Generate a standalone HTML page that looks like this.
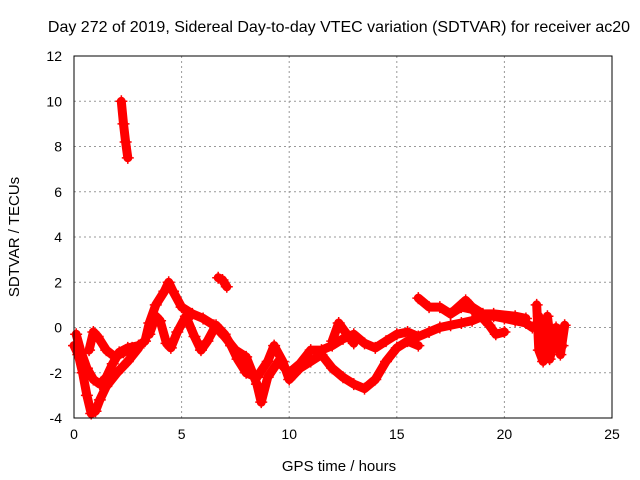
<!DOCTYPE html>
<html><head><meta charset="utf-8"><style>
body{margin:0;background:#fff}
svg{display:block;font-family:"Liberation Sans",sans-serif}
</style></head><body>
<svg id="c" width="640" height="480">
<text x="339" y="32" font-size="16" text-anchor="middle">Day 272 of 2019, Sidereal Day-to-day VTEC variation (SDTVAR) for receiver ac20</text>
<text x="339" y="471" font-size="15" text-anchor="middle">GPS time / hours</text>
<text transform="translate(19,237) rotate(-90)" font-size="15" text-anchor="middle">SDTVAR / TECUs</text>
<g id="grid"></g><g id="ticks"></g><g id="marks"></g>
<rect x="74" y="56" width="538" height="362" fill="none" stroke="#000" stroke-width="1"/>
</svg>
<script>
const xTicks=[0,5,10,15,20,25];
const yTicks=[-4,-2,0,2,4,6,8,10,12];
const trackA=[[0,-0.8],[0.2,-1.2],[0.4,-2],[0.6,-3],[0.8,-3.8],[1.0,-3.7],[1.2,-3.2],[1.5,-2.6],[2,-2],[2.5,-1.5],[3,-0.9]];
const trackB=[[0.1,-0.3],[0.3,-1],[0.6,-1.8],[0.9,-2.3],[1.2,-2.5],[1.5,-2.2],[1.8,-1.6],[2.1,-1.1],[2.5,-0.9],[3,-0.8],[3.3,-0.6],[3.5,0.2],[3.8,1],[4.2,1.6],[4.4,2],[4.6,1.6],[5,0.9],[5.5,0.6],[6,0.4],[6.5,0.1],[7,-0.4],[7.5,-1],[8,-1.3],[8.5,-2.5],[8.7,-3.3],[9,-2.2],[9.5,-1.5],[10,-2],[10.5,-1.6],[11,-1],[11.5,-1],[12,-0.8],[12.5,-0.5],[13,-0.3],[13.5,-0.7],[14,-0.9],[14.5,-0.6],[15,-0.3],[15.5,-0.2],[16,-0.4],[16.5,-0.2],[17,0],[17.5,0.1],[18,0.2],[18.5,0.3],[19,0.5],[19.5,0.5],[20,0.4],[20.5,0.3],[21,0.2],[21.3,0]];
const trackC=[[0.7,-1],[0.9,-0.2],[1.1,-0.4],[1.5,-1],[1.9,-1.3],[2.3,-1.1],[2.7,-0.9]];
const trackD=[[3.5,-0.3],[3.8,0.5],[4.0,0.3],[4.3,-0.7],[4.5,-0.9],[4.8,-0.2],[5.2,0.5],[5.6,-0.4],[5.9,-1],[6.2,-0.6],[6.6,0.1],[7,-0.3],[7.3,-0.8],[7.6,-1.4],[8,-2],[8.5,-2.2],[9,-1.5],[9.3,-0.8],[9.7,-1.5],[10,-2.3],[10.5,-1.8],[11,-1.5],[11.5,-1.2],[12,-1.8],[12.5,-2.2],[13,-2.5],[13.5,-2.7],[14,-2.3],[14.5,-1.5],[15,-0.9],[15.5,-0.6],[16,-0.8]];
const trackE=[[12,-0.6],[12.3,0.2],[12.6,-0.2],[13,-0.7]];
const trackF=[[16,1.3],[16.5,0.9],[17,0.9],[17.5,0.6],[18,0.9],[18.5,0.8],[19,0.4],[19.3,0.1],[19.6,-0.3],[20,-0.2]];
const trackG=[[17.5,0.6],[18.2,1.2],[18.5,0.9],[19,0.6],[19.5,0.6],[20.5,0.5],[21,0.4]];
const trackH=[[21.5,1],[21.6,-1],[21.8,-1.5],[22,0.5],[22.2,-1],[22.4,0],[22.6,-1.2],[22.8,0.1]];
const trackH2=[[21.6,0.5],[21.7,-0.5],[21.9,-0.2],[22.1,-1.4],[22.3,-0.6],[22.5,-0.3],[22.7,-0.8]];
const trackI=[[2.2,10],[2.3,9],[2.4,8.2],[2.5,7.5]];
const trackJ=[[6.7,2.2],[6.9,2.1],[7.1,1.8]];
const tracks=[trackA,trackB,trackC,trackD,trackE,trackF,trackG,trackH,trackH2,trackI,trackJ];
const X0=74,X1=612,Y0=418,Y1=56;
const sx=h=>X0+(h-0)/(25-0)*(X1-X0);
const sy=v=>Y0-(v+4)/(12+4)*(Y0-Y1);
const NS="http://www.w3.org/2000/svg";
const grid=document.getElementById('grid'),ticks=document.getElementById('ticks'),marks=document.getElementById('marks');
function mk(t,a,p){const e=document.createElementNS(NS,t);for(const k in a)e.setAttribute(k,a[k]);p.appendChild(e);return e;}
xTicks.forEach(t=>{const x=sx(t);
 if(t>0&&t<25){const g=mk('line',{x1:x,x2:x,y1:Y1,y2:Y0,stroke:'#999','stroke-dasharray':'2,3'},grid);
 
 }
 const l=mk('text',{x:x,y:Y0+21,'font-size':14,'text-anchor':'middle'},ticks);l.textContent=t;
 
 
});
yTicks.forEach(t=>{const y=sy(t);
 if(t>-4&&t<12){const g=mk('line',{x1:X0,x2:X1,y1:y,y2:y,stroke:'#999','stroke-dasharray':'2,3'},grid);
 
 }
 const l=mk('text',{x:X0-12,y:y+5,'font-size':14,'text-anchor':'end'},ticks);l.textContent=t;
 
 
});
tracks.forEach(tr=>{
 const d=tr.map((p,i)=>(i?'L':'M')+sx(p[0]).toFixed(1)+','+sy(p[1]).toFixed(1)).join('');
 const pth=mk('path',{d:d,fill:'none',stroke:'#f00','stroke-width':9,'stroke-linejoin':'round','stroke-linecap':'round'},marks);
 
 
 tr.forEach(p=>{const x=sx(p[0]),y=sy(p[1]);
  const m=mk('path',{d:`M${x-6},${y}H${x+6}M${x},${y-6}V${y+6}`,stroke:'#f00','stroke-width':1.5},marks);
  
  
 });
});
</script>
</body></html>
